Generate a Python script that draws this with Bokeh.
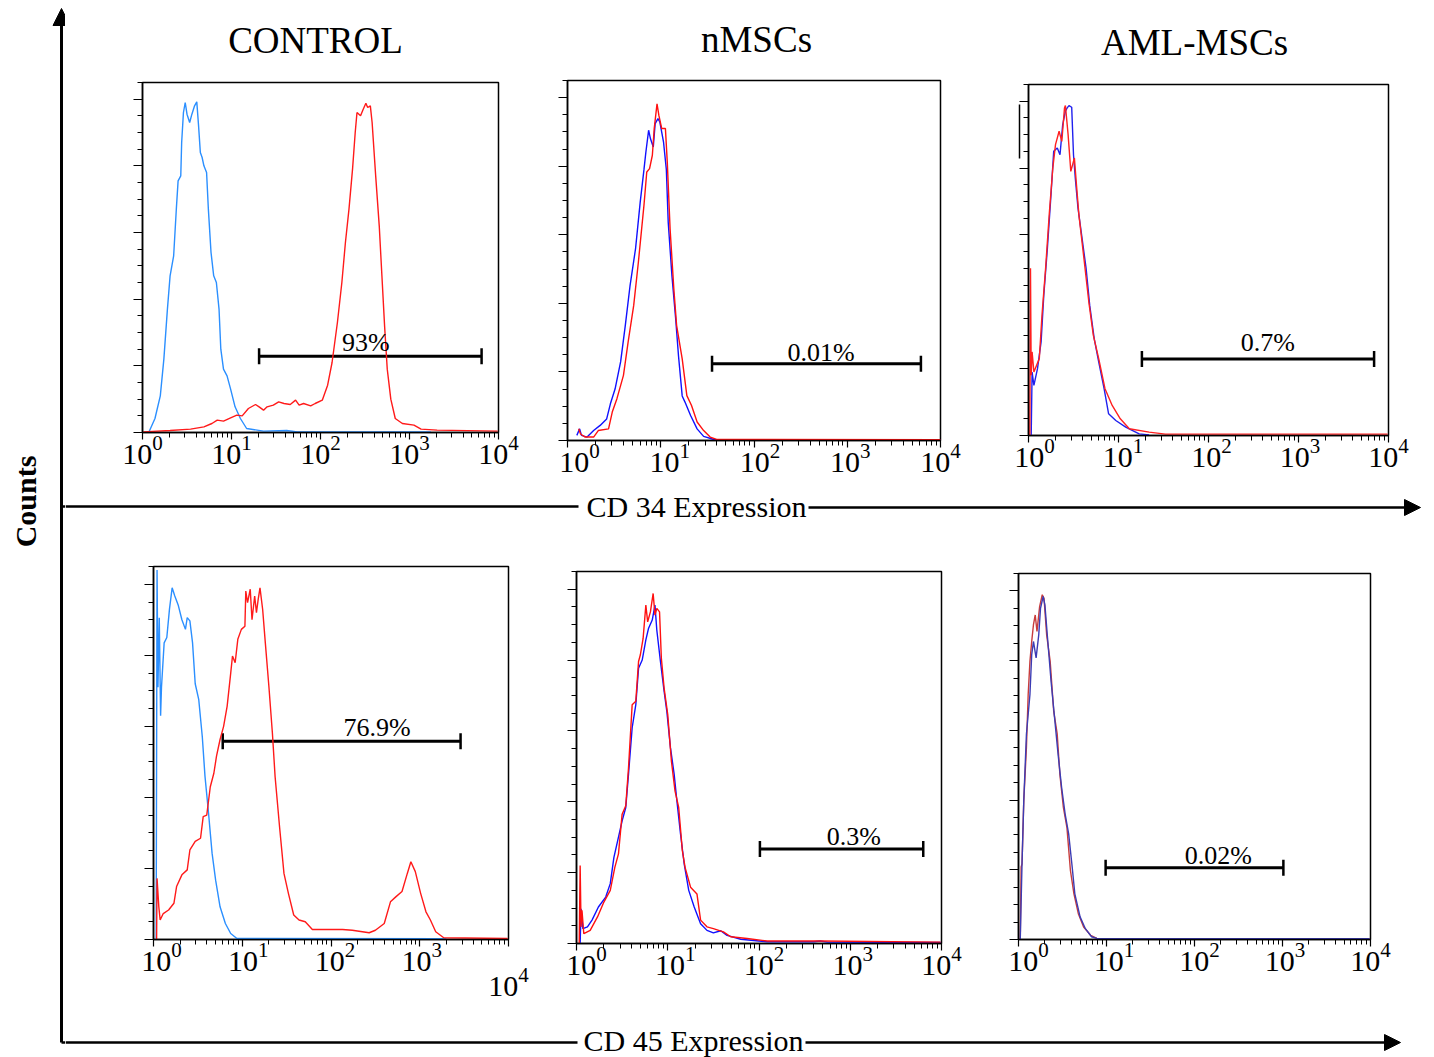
import math
import numpy as np
from bokeh.plotting import figure
from bokeh.layouts import row, column
from bokeh.models import (Range1d, FixedTicker, SingleIntervalTicker, Whisker, TeeHead,
                          ColumnDataSource, Arrow, NormalHead, Spacer, LogAxis, LinearAxis,
                          CustomJSTickFormatter)
from bokeh.core.properties import value
from bokeh.embed import file_html
from bokeh.resources import INLINE

FONT = "Liberation Serif"

# ------------------------------------------------------------------ data
titles = ["CONTROL", "nMSCs", "AML-MSCs"]
axis_titles = ["CD 34 Expression", "CD 45 Expression"]
y_title = "Counts"
major_exponents = [0, 1, 2, 3, 4]

# fluorescence in log10 decades, counts in % of panel scale
ctrl34_iso_dec = [0.07,0.14,0.20,0.24,0.28,0.31,0.35,0.38,0.40,0.43,0.44,0.46,0.48,0.50,0.53,0.555,0.585,0.61,0.63,0.65,0.67,0.69,0.72,0.74,0.77,0.80,0.83,0.86,0.88,0.91,0.95,0.99,1.04,1.10,1.17,1.36,1.62,1.74,3.24]
ctrl34_iso_cnt = [0,4.2,11,22,37,47,53,67,75.5,77,87,96,99,95.5,93,95.5,98,99.2,92,84,82.5,80,78,67,54,47,45,37,25,19,17,13,7.7,4.2,1.2,0.4,0.6,0.2,0.2]
ctrl34_ab_dec = [0.01,0.31,0.54,0.69,0.78,0.84,0.91,0.99,1.06,1.12,1.19,1.27,1.31,1.36,1.40,1.47,1.53,1.59,1.66,1.72,1.76,1.81,1.89,1.94,2.02,2.08,2.13,2.19,2.24,2.28,2.32,2.36,2.39,2.41,2.45,2.48,2.51,2.53,2.56,2.58,2.62,2.66,2.69,2.72,2.75,2.79,2.84,2.92,3.05,3.13,3.31,3.99]
ctrl34_ab_cnt = [0.2,0.6,1,1.7,2.7,3.7,3.4,4.4,5.2,5,7.2,8.4,7.7,6.7,7.7,8.2,9.2,8.7,8.4,9.7,8.2,8.7,8,8.7,9.7,14.2,21,33,45,57,67,79,90,96,95,97,98.8,97.5,98,93,77,62,47,32,19,10,4.2,2.7,2.2,1,0.7,0.4]

nmsc34_iso_dec = [0.10,0.13,0.15,0.21,0.28,0.35,0.42,0.46,0.51,0.57,0.62,0.67,0.73,0.78,0.82,0.84,0.87,0.89,0.92,0.94,0.97,0.99,1.03,1.06,1.08,1.12,1.16,1.19,1.23,1.26,1.32,1.39,1.46,1.57,4.0]
nmsc34_iso_cnt = [1.5,3.4,1.5,1,2.9,4.4,6.3,10.7,15,23,33.6,45,56,69.6,79,84,90.5,88,85.6,92.4,93.9,92.9,87,79,63.7,48,35.5,24.8,13,11.2,7.3,3.4,1.2,0.3,0.1]
nmsc34_ab_dec = [0.12,0.14,0.19,0.28,0.33,0.44,0.48,0.53,0.60,0.65,0.71,0.76,0.82,0.85,0.88,0.91,0.93,0.96,0.98,1.01,1.05,1.07,1.10,1.14,1.17,1.23,1.28,1.33,1.39,1.46,1.53,1.60,4.0]
nmsc34_ab_cnt = [3.4,1.9,1,1,2.9,3.4,8.3,12.2,19,28.7,39.4,52,68.6,78.3,79.3,83.2,91,98.2,94.8,91,91,81.2,61.8,44.3,33.6,23.8,13.1,10.2,5.4,2.9,1,0.3,0.2]

aml34_iso_dec = [0.03,0.04,0.06,0.10,0.14,0.17,0.21,0.25,0.28,0.32,0.35,0.38,0.41,0.43,0.45,0.48,0.50,0.52,0.55,0.59,0.64,0.68,0.73,0.78,0.84,0.89,0.97,1.08,1.23,1.34]
aml34_iso_cnt = [0,19,15,20,28,42,56,72,85,86,84,93,97,98,98.7,98.2,84,77,68,60,50,39,29,22,14,6.5,4.5,2.5,0.5,0.2]
aml34_ab_dec = [0.015,0.022,0.03,0.04,0.06,0.12,0.15,0.19,0.23,0.27,0.30,0.34,0.37,0.40,0.41,0.44,0.47,0.51,0.53,0.56,0.62,0.67,0.72,0.78,0.85,0.93,1.02,1.12,1.34,1.52,3.99]
aml34_ab_cnt = [0,50,18,25,19,23,36,50,66,80,87,91,88,98,98.7,90,79,83,76,66,52,40,30,23,14,9,5,2,1,0.4,0.4]

ctrl45_iso_dec = [0.03,0.04,0.05,0.065,0.08,0.09,0.12,0.15,0.18,0.21,0.24,0.28,0.32,0.36,0.38,0.41,0.44,0.47,0.51,0.55,0.58,0.62,0.66,0.70,0.75,0.81,0.87,0.94,3.30]
ctrl45_iso_cnt = [0,104,71,90.6,63,71,83.5,85,93,99,96.7,94,90,87.3,90.6,89.7,83.5,72,67.5,57,46,35.6,24.3,16.7,9.2,4.5,1.7,0.3,0.2]
ctrl45_ab_dec = [0.035,0.04,0.06,0.075,0.11,0.17,0.23,0.26,0.32,0.38,0.41,0.47,0.53,0.56,0.60,0.64,0.68,0.71,0.75,0.79,0.83,0.87,0.89,0.92,0.95,0.99,1.03,1.04,1.06,1.09,1.11,1.14,1.16,1.18,1.20,1.23,1.26,1.30,1.34,1.37,1.42,1.47,1.52,1.58,1.64,1.71,1.79,1.94,2.13,2.24,2.43,2.50,2.60,2.67,2.73,2.80,2.86,2.90,2.95,3.01,3.07,3.12,3.18,3.27,3.99]
ctrl45_ab_cnt = [0,17.2,9.2,5.5,7.3,8.3,10.2,14.9,18.2,19.6,25.2,27.6,28.5,34.6,35,43,46.8,51.6,56.3,60,65.7,75,79.8,77.9,84.5,87.3,88.2,98.1,94.8,98.6,90,96.7,92,95.8,99,92.9,83.5,71.3,58,45.9,31.8,18.6,13,6.9,5.5,5,2.8,2.8,2.8,2.6,1.9,2.6,4.5,10.6,12,13.5,18.6,21.9,19.1,13,7.8,5.5,2.2,0.5,0.3]

nmsc45_iso_dec = [0.04,0.05,0.07,0.12,0.17,0.24,0.32,0.37,0.41,0.46,0.50,0.54,0.57,0.61,0.65,0.68,0.72,0.76,0.79,0.83,0.86,0.88,0.92,0.96,0.99,1.03,1.07,1.10,1.14,1.18,1.23,1.29,1.36,1.43,1.50,1.58,1.65,1.80,2.09,2.60,2.67,2.75,3.99]
nmsc45_iso_cnt = [0,9.8,4.2,4.7,6.6,10.3,13.1,16.9,24.3,30,34.6,38.4,47.8,60.9,67.4,77.7,80,85.7,89,91.3,95.5,88.5,79.6,71.2,65.5,55.2,47.8,40.3,30.9,22.5,15,10.3,5.6,3.7,3,3.6,2.3,1.2,0.5,0.5,0.7,0.4,0.3]
nmsc45_ab_dec = [0.03,0.04,0.05,0.06,0.08,0.15,0.23,0.30,0.37,0.42,0.46,0.50,0.54,0.57,0.61,0.65,0.68,0.70,0.73,0.76,0.78,0.81,0.84,0.86,0.88,0.91,0.93,0.96,1.0,1.04,1.08,1.12,1.16,1.19,1.25,1.32,1.36,1.43,1.50,1.61,1.69,1.87,2.09,2.67,3.99]
nmsc45_ab_cnt = [0,22,4.7,9.4,2.8,3.7,7.5,11.7,15,21.5,25.3,36.5,38.9,49.6,67.4,68.4,79.6,81.5,86.1,95.5,90.8,93.6,98.8,92.7,94.6,93.6,80.5,72.1,64.6,51.5,43,38.4,26.2,21.5,15.9,14,6.6,4.7,4.2,3.3,1.9,1.4,0.7,0.7,0.4]

aml45_ab_dec = [0.02,0.03,0.04,0.06,0.09,0.11,0.13,0.15,0.17,0.19,0.21,0.24,0.27,0.29,0.32,0.36,0.40,0.44,0.47,0.51,0.55,0.59,0.63,0.68,0.74,0.82,0.89,3.99]
aml45_ab_cnt = [0,20.8,21.7,39.8,55,70.3,79.8,85.5,90.3,93.1,88.4,95.5,98.9,97.9,87.4,79.8,65.5,58.9,47.4,37.9,32.2,19.8,13.1,7.4,3.6,1.2,0.3,0.2]
aml45_iso_dec = [0.02,0.04,0.06,0.09,0.13,0.15,0.17,0.20,0.23,0.25,0.28,0.30,0.33,0.37,0.41,0.45,0.49,0.53,0.57,0.61,0.64,0.70,0.76,0.83,0.89,3.99]
aml45_iso_cnt = [0,21.7,39.8,58.9,70.3,81.7,85.5,80.8,87.4,95,98.4,96,86.5,74.1,63.6,53.1,43.6,36,30.3,20.8,13.1,6.5,3.1,0.8,0.3,0.2]

# gates (decades) and percentages
gate_lo = [1.31, 1.55, 1.26, 0.78, 2.01, 0.99]
gate_hi = [3.81, 3.79, 3.84, 3.46, 3.80, 3.01]
gate_level = [22.9, 22.4, 22.9, 55.8, 26.7, 20.6]
gate_pct = ["93%", "0.01%", "0.7%", "76.9%", "0.3%", "0.02%"]
gate_text_dec = [2.51, 2.72, 2.66, 2.52, 3.04, 2.27]
gate_text_level = [27.0, 25.7, 27.7, 59.6, 30.3, 24.0]

# ------------------------------------------------------------------ style/layout
LIGHT_BLUE = "#2b8fff"
panels = [
    dict(curves=[(ctrl34_iso_dec, ctrl34_iso_cnt, LIGHT_BLUE), (ctrl34_ab_dec, ctrl34_ab_cnt, "#ff1a1a")],
         L=40, R=30, T=12, B=58, FW=356, FH=350, shift=0),
    dict(curves=[(nmsc34_iso_dec, nmsc34_iso_cnt, "#1010ff"), (nmsc34_ab_dec, nmsc34_ab_cnt, "#ff1010")],
         L=36, R=40, T=10, B=50, FW=373, FH=360, shift=12),
    dict(curves=[(aml34_iso_dec, aml34_iso_cnt, "#2020ee"), (aml34_ab_dec, aml34_ab_cnt, "#ff2020")],
         L=40, R=40, T=14, B=55, FW=360, FH=351, shift=6, side_mark=(83, 99)),
    dict(curves=[(ctrl45_iso_dec, ctrl45_iso_cnt, LIGHT_BLUE), (ctrl45_ab_dec, ctrl45_ab_cnt, "#ff1a1a")],
         L=40, R=30, T=31, B=83, FW=355, FH=373, shift=8, low_last_label=True),
    dict(curves=[(nmsc45_iso_dec, nmsc45_iso_cnt, "#1010ff"), (nmsc45_ab_dec, nmsc45_ab_cnt, "#ff1010")],
         L=36, R=40, T=36, B=79, FW=365, FH=372, shift=10),
    dict(curves=[(aml45_ab_dec, aml45_ab_cnt, "#c83c3c"), (aml45_iso_dec, aml45_iso_cnt, "#3c3cb4")],
         L=30, R=40, T=38, B=83, FW=352, FH=366, shift=10),
]

minor = [m * 10 ** d for d in range(4) for m in range(2, 10)] + [10 ** 4]
TICK_FONT_SIZE = "30px"
EMPTY = CustomJSTickFormatter(code="return ''")


def label_axis(ticks, standoff):
    return LogAxis(x_range_name="lbl", ticker=FixedTicker(ticks=ticks, minor_ticks=[]),
                   axis_line_color=None, major_tick_line_color=None,
                   minor_tick_line_color=None, major_tick_out=0, major_tick_in=0,
                   minor_tick_out=0, minor_tick_in=0,
                   major_label_standoff=standoff, major_label_text_font=FONT,
                   major_label_text_font_size=TICK_FONT_SIZE,
                   major_label_text_color="black")


def build_panel(i, spec):
    W = spec["L"] + spec["FW"] + spec["R"]
    H = spec["T"] + spec["FH"] + spec["B"]
    p = figure(width=W, height=H, x_axis_type="log", x_range=Range1d(1, 1e4),
               y_range=Range1d(0, 105), output_backend="svg", toolbar_location=None,
               min_border_left=spec["L"], min_border_right=spec["R"],
               min_border_top=spec["T"], min_border_bottom=spec["B"])
    try:
        p.frame_align = False
    except Exception:
        pass
    # label row: the left labels sit a little to the right of their tick marks
    s = spec["shift"]
    a = 4.0 * s / (spec["FW"] - s)
    p.extra_x_ranges = {"lbl": Range1d(10 ** (-a), 1e4)}
    p.grid.visible = False
    p.outline_line_color = "black"
    p.outline_line_width = 1.5
    p.background_fill_color = "white"
    p.border_fill_color = "white"
    majors = [10 ** e for e in major_exponents]
    p.xaxis.ticker = FixedTicker(ticks=majors, minor_ticks=minor)
    p.xaxis.formatter = EMPTY
    p.xaxis.major_tick_in = 0
    p.xaxis.major_tick_out = 7
    p.xaxis.minor_tick_in = 0
    p.xaxis.minor_tick_out = 5
    p.xaxis.major_label_standoff = 0
    p.yaxis.ticker = SingleIntervalTicker(interval=20, num_minor_ticks=4)
    p.yaxis.formatter = EMPTY
    p.yaxis.major_tick_in = 0
    p.yaxis.major_tick_out = 9
    p.yaxis.minor_tick_in = 0
    p.yaxis.minor_tick_out = 5
    p.yaxis.major_label_standoff = 0
    p.axis.axis_line_color = "black"
    p.axis.axis_line_width = 1.5
    p.axis.major_tick_line_color = "black"
    p.axis.minor_tick_line_color = "black"
    p.axis.major_tick_line_width = 1.2
    p.axis.minor_tick_line_width = 1.0

    if spec.get("low_last_label"):
        p.add_layout(label_axis(majors[:-1], -4), "below")
        p.add_layout(label_axis(majors[-1:], -6), "below")
    else:
        p.add_layout(label_axis(majors, -4), "below")

    if spec.get("side_mark"):
        # short stray vertical stroke left of the count ticks in the original
        p.add_layout(LinearAxis(bounds=spec["side_mark"], ticker=FixedTicker(ticks=[]),
                                formatter=EMPTY, major_tick_out=0, major_tick_in=0,
                                minor_tick_out=0, minor_tick_in=0, major_label_standoff=0,
                                axis_line_color="black", axis_line_width=1.5), "left")

    for dec, cnt, col in spec["curves"]:
        p.line(x=[10 ** d for d in dec], y=cnt, line_color=col, line_width=1.4)

    src = ColumnDataSource(dict(base=[gate_level[i]], lower=[10 ** gate_lo[i]],
                                upper=[10 ** gate_hi[i]]))
    p.add_layout(Whisker(base="base", lower="lower", upper="upper", dimension="width",
                         source=src, line_width=3, line_color="black",
                         lower_head=TeeHead(size=16, line_width=2.5, line_color="black"),
                         upper_head=TeeHead(size=16, line_width=2.5, line_color="black")))
    p.text(x=[10 ** gate_text_dec[i]], y=[gate_text_level[i]], text=[gate_pct[i]],
           text_font=value(FONT), text_font_size="26px", text_color="black",
           text_align="center", text_baseline="middle")
    return p


def deco_fig(w, h, x0):
    f = figure(width=w, height=h, x_range=Range1d(x0, x0 + w), y_range=Range1d(0, h),
               output_backend="svg", toolbar_location=None, min_border=0,
               min_border_left=0, min_border_right=0, min_border_top=0, min_border_bottom=0)
    try:
        f.frame_align = False
    except Exception:
        pass
    f.axis.visible = False
    f.grid.visible = False
    f.outline_line_color = None
    f.background_fill_color = "white"
    f.border_fill_color = "white"
    return f


# left strip: vertical Counts arrow (y measured upward from page bottom)
lf = deco_fig(65, 1057, 0)
lf.add_layout(Arrow(end=NormalHead(size=17, fill_color="black", line_color="black"),
                    x_start=61, y_start=15, x_end=61, y_end=1049,
                    line_width=3, line_color="black"))
lf.segment(x0=[61, 61], y0=[551, 15], x1=[65, 65], y1=[551, 15], line_width=2.5, line_color="black")
lf.text(x=[25], y=[556], text=[y_title], angle=math.pi / 2, text_font=value(FONT),
        text_font_style="bold", text_font_size="30px", text_color="black",
        text_align="center", text_baseline="middle")

# titles band (page y 0..70)
tf = deco_fig(1369, 70, 65)
tf.text(x=[315, 756, 1194], y=[30, 31, 28], text=titles, text_font=value(FONT),
        text_font_size="37px", text_color="black", text_align="center",
        text_baseline="middle")

# CD 34 band (page y 490..535)
b1 = deco_fig(1369, 45, 65)
b1.segment(x0=[65], y0=[29], x1=[578], y1=[29], line_width=2.5, line_color="black")
b1.add_layout(Arrow(end=NormalHead(size=16, fill_color="black", line_color="black"),
                    x_start=808, y_start=28, x_end=1420, y_end=28,
                    line_width=2.5, line_color="black"))
b1.text(x=[696], y=[29], text=[axis_titles[0]], text_font=value(FONT),
        text_font_size="30px", text_color="black", text_align="center",
        text_baseline="middle")

# CD 45 band (page y 1022..1057)
b2 = deco_fig(1369, 35, 65)
b2.segment(x0=[65], y0=[15], x1=[577], y1=[15], line_width=2.5, line_color="black")
b2.add_layout(Arrow(end=NormalHead(size=16, fill_color="black", line_color="black"),
                    x_start=805, y_start=15, x_end=1400, y_end=15,
                    line_width=2.5, line_color="black"))
b2.text(x=[693], y=[17], text=[axis_titles[1]], text_font=value(FONT),
        text_font_size="30px", text_color="black", text_align="center",
        text_baseline="middle")

figs = [build_panel(i, s) for i, s in enumerate(panels)]

top_row = row(Spacer(width=37, height=420), figs[0], Spacer(width=3, height=420), figs[1],
              Spacer(width=8, height=420), figs[2], Spacer(width=6, height=420))
bot_row = row(Spacer(width=48, height=487), figs[3], Spacer(width=2, height=487), figs[4],
              Spacer(width=7, height=487), figs[5], Spacer(width=24, height=487))

root = row(lf, column(tf, top_row, b1, bot_row, b2))

open("out.html", "w").write(file_html(root, INLINE))
